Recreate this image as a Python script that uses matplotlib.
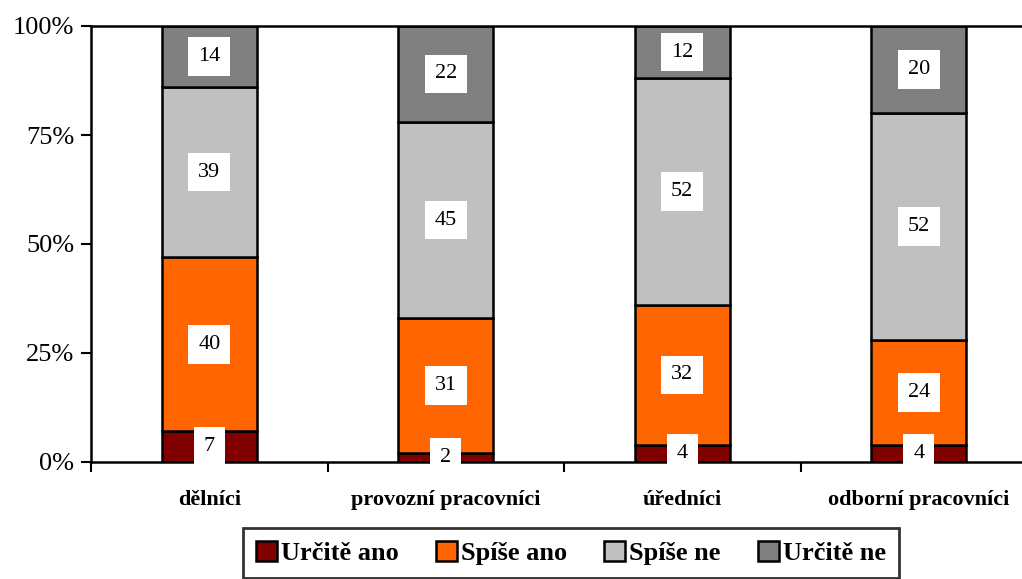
import matplotlib.pyplot as plt
import numpy as np
from matplotlib.ticker import FixedLocator, NullFormatter

plt.rcParams['font.family'] = ['Liberation Serif', 'DejaVu Serif']

categories = ["dělníci", "provozní pracovníci", "úředníci", "odborní pracovníci"]
series_names = ["Určitě ano", "Spíše ano", "Spíše ne", "Určitě ne"]
urcite_ano = [7, 2, 4, 4]
spise_ano = [40, 31, 32, 24]
spise_ne = [39, 45, 52, 52]
urcite_ne = [14, 22, 12, 20]
colors = ["#800000", "#FF6600", "#C0C0C0", "#808080"]

fig = plt.figure(figsize=(10.22, 5.79), dpi=100)
# axes runs past the right edge like in the original
ax = fig.add_axes([91 / 1022, 1 - 462 / 579, 946 / 1022, 436 / 579])

x = np.arange(len(categories))
bottom = np.zeros(len(categories))
for name, vals, col in zip(series_names, [urcite_ano, spise_ano, spise_ne, urcite_ne], colors):
    vals = np.array(vals, dtype=float)
    ax.bar(x, vals, 0.4, bottom=bottom, color=col, edgecolor="black", lw=1.8, label=name, zorder=2)
    for xi, b, v in zip(x, bottom, vals):
        ax.text(xi, b + v / 2, f"{int(v)}", ha="center", va="center", fontsize=16,
                bbox=dict(facecolor="white", edgecolor="none", pad=7), zorder=3)
    bottom += vals

ax.set_xlim(-0.5, 3.5)
ax.set_ylim(0, 100)
ax.set_yticks([0, 25, 50, 75, 100])
ax.set_yticklabels(["0%", "25%", "50%", "75%", "100%"], fontsize=19)
ax.tick_params(axis="y", length=7, width=1.5, direction="out", pad=5)

ax.xaxis.set_major_locator(FixedLocator([-0.5, 0.5, 1.5, 2.5, 3.5]))
ax.xaxis.set_major_formatter(NullFormatter())
ax.tick_params(axis="x", length=7, width=1.5, direction="out")
for xi, c in zip(x, categories):
    ax.text(xi, -6.5, c, ha="center", va="top", fontsize=16, fontweight="bold",
            transform=ax.transData)

for s in ["left", "bottom", "top"]:
    ax.spines[s].set_linewidth(1.8)
ax.spines["right"].set_visible(False)

leg = fig.legend(loc="center", bbox_to_anchor=(571 / 1022, 1 - 553 / 579), ncol=4,
                 prop={"size": 19, "weight": "bold"}, frameon=True, fancybox=False,
                 handlelength=0.8, handleheight=0.8, handletextpad=0.15, columnspacing=1.4,
                 borderpad=0.5, borderaxespad=0)
leg.get_frame().set_edgecolor("black")
leg.get_frame().set_linewidth(2)

fig.savefig("out.png", dpi=100)
